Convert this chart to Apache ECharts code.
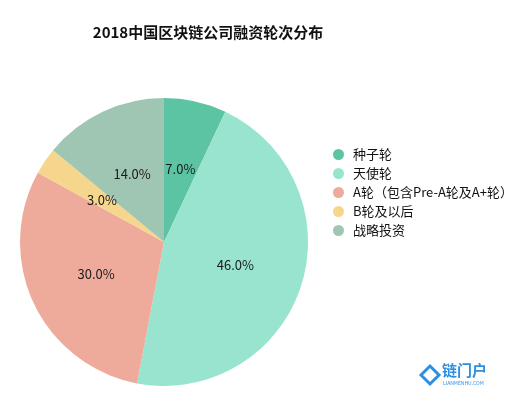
<!DOCTYPE html>
<html>
<head>
<meta charset="utf-8">
<script src="https://cdn.jsdelivr.net/npm/echarts@6/dist/echarts.min.js"></script>
<style>html,body{margin:0;padding:0;background:#fff;}#c{width:515px;height:394px;}</style>
</head>
<body>
<div id="c"></div>
<script>
var categories = ['种子轮', '天使轮', 'A轮（包含Pre-A轮及A+轮）', 'B轮及以后', '战略投资'];
var values = [7.0, 46.0, 30.0, 3.0, 14.0];
var colors = ['#5cc4a2', '#98e4cf', '#eeab9b', '#f6d68d', '#9fc5b3'];
var titleText = '2018中国区块链公司融资轮次分布';

var FONT = '"Noto Sans CJK SC", "Liberation Sans", sans-serif';
var chart = echarts.init(document.getElementById('c'), null, {renderer: 'canvas'});
chart.setOption({
  backgroundColor: '#fff',
  animation: false,
  color: colors,
  title: {
    text: titleText,
    left: 203, top: 20, textAlign: 'center',
    textStyle: {fontSize: 15, fontWeight: 'bold', color: '#111', fontFamily: FONT}
  },
  legend: {
    orient: 'vertical',
    left: 328, top: 143,
    icon: 'circle',
    itemWidth: 11, itemHeight: 11,
    itemGap: 6,
    data: categories,
    textStyle: {fontSize: 13, color: '#111', fontFamily: FONT, padding: [0, 0, 0, 4]}
  },
  series: [{
    type: 'pie',
    center: [164, 242],
    radius: [0, 144],
    startAngle: 90,
    clockwise: true,
    data: categories.map(function (n, i) { return {name: n, value: values[i]}; }),
    label: {
      show: true,
      position: 'inside',
      formatter: function (p) { return p.value.toFixed(1) + '%'; },
      fontSize: 13,
      color: '#1a1a1a',
      fontFamily: FONT
    },
    labelLine: {show: false},
    itemStyle: {borderWidth: 0}
  }],
  graphic: [
    {type: 'polygon', shape: {points: [[421, 375], [430, 366], [439, 375], [430, 384]]},
     style: {fill: 'none', stroke: '#2e8fe0', lineWidth: 3}},
    {type: 'text', left: 442, top: 363,
     style: {text: '链门户', font: 'bold 15px ' + FONT, fill: '#2e8fe0'}},
    {type: 'text', left: 443, top: 381,
     style: {text: 'LIANMENHU.COM', font: '5px ' + FONT, fill: '#2e8fe0'}}
  ]
});
</script>
</body>
</html>
